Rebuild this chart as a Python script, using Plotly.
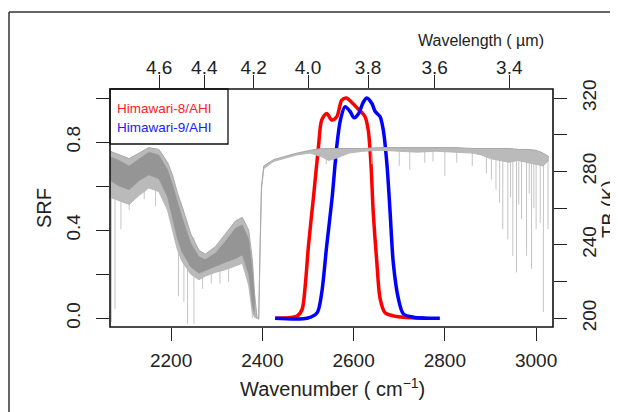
import plotly.graph_objects as go

# SRF of the 3.9 um band (wavenumber in cm-1)
h8_wn = [2428, 2476, 2487, 2494, 2501, 2512, 2523, 2530, 2541, 2552, 2563, 2574, 2584,
         2596, 2610, 2625, 2632, 2638, 2643, 2651, 2658, 2669, 2694, 2756]
h8_srf = [0.0, 0.01, 0.04, 0.15, 0.33, 0.55, 0.78, 0.90, 0.93, 0.90, 0.915, 0.99, 1.0,
          0.98, 0.95, 0.915, 0.855, 0.70, 0.48, 0.25, 0.09, 0.025, 0.008, 0.0]

h9_wn = [2428, 2498, 2520, 2530, 2541, 2553, 2563, 2571, 2581, 2592, 2601, 2611, 2621,
         2629, 2640, 2647, 2658, 2665, 2673, 2680, 2687, 2698, 2709, 2731, 2789]
h9_srf = [0.0, 0.0, 0.025, 0.115, 0.33, 0.55, 0.78, 0.90, 0.96, 0.94, 0.91, 0.93, 0.98,
          1.0, 0.975, 0.94, 0.915, 0.855, 0.70, 0.48, 0.25, 0.09, 0.02, 0.005, 0.0]

# brightness temperature spectrum, outer envelope (K)
env_wn = [2066, 2086, 2108, 2130, 2151, 2173, 2192, 2203, 2213, 2224, 2243, 2261, 2275,
          2297, 2319, 2341, 2356, 2370, 2378, 2383, 2388, 2392, 2395, 2398, 2403, 2425,
          2447, 2476, 2505, 2530, 2545, 2560, 2575, 2590, 2620, 2660, 2700, 2740, 2780,
          2820, 2860, 2880, 2900, 2920, 2940, 2960, 2980, 3000, 3015, 3028]
tb_top = [291, 289, 287, 290, 293, 292, 285, 278, 269, 261, 246, 237, 235,
          239, 246, 253, 255, 248, 232, 213, 201, 200, 240, 272, 283, 286.5,
          288, 290, 291.5, 292.5, 292.5, 292.5, 292.5, 292.5, 292.5, 293, 293, 293, 293,
          293, 292.5, 292.5, 292.5, 292.5, 292.5, 292, 292, 291.5, 290, 288]
tb_bot = [266, 264, 262, 267, 271, 269, 259, 248, 238, 231, 224, 221, 223,
          225, 226.5, 228.5, 230, 218, 203, 200.5, 200, 199.5, 238, 270, 281.5, 285.5,
          287, 289, 290, 288, 286, 287, 288.5, 290, 291, 291.5, 291, 290.5, 291,
          290.5, 290, 289, 287, 286, 285, 286, 285, 284, 283, 286]

# darker core of the dense band below 2385 cm-1
core_wn = [2066, 2086, 2108, 2130, 2151, 2173, 2192, 2203, 2213, 2224, 2243, 2261, 2275,
           2297, 2319, 2341, 2356, 2370, 2378, 2383]
core_top = [288, 286, 283, 287, 290.5, 289, 281, 273, 264, 255, 241, 233.5, 232,
            235.5, 242, 249, 251, 243, 226, 210]
core_bot = [275, 272, 270, 275, 278, 276, 266, 255, 244, 236, 228, 224.5, 226,
            228.5, 230.5, 232.5, 234.5, 224, 207, 202]

# single absorption lines: position, local top, bottom (K)
spike_wn = [2069, 2077, 2090, 2108, 2141, 2166, 2216, 2228, 2236, 2250, 2269, 2288, 2307,
            2326, 2378, 2540, 2565, 2640, 2700, 2723, 2756, 2774, 2800, 2826, 2860, 2891,
            2902, 2912, 2920, 2927, 2938, 2944, 2949, 2957, 2962, 2968, 2979, 2985, 2990,
            2995, 3000, 3009, 3016, 3026]
spike_top = [291, 289, 288, 285, 290, 292, 260, 257, 252, 244, 236, 234, 236,
             240, 230, 292.5, 292.5, 292.5, 293, 293, 293, 293, 293, 293, 292.5, 292.5,
             292.5, 292.5, 292.5, 292.5, 292.5, 292.5, 292.5, 292.5, 292, 292, 292, 292, 292,
             292, 291.5, 291, 290, 288]
spike_tb = [198, 205, 248.5, 259, 265, 261, 212, 209, 197, 197, 216, 219, 219,
            220, 200, 284, 285, 284, 283, 281, 284.7, 285.5, 277.4, 284.8, 283, 279,
            275.6, 270, 263, 248.5, 243, 266, 234, 225, 262, 254, 234, 268, 227,
            260, 248.5, 252, 203.5, 248.5]

wavelength_ticks = [4.6, 4.4, 4.2, 4.0, 3.8, 3.6, 3.4]

FONT = "Liberation Sans, Arial, sans-serif"


def px_x(x):
    # window pixel -> paper x
    return (x - 110) / 443


def px_y(y):
    # window pixel -> paper y
    return (327 - y) / 238


fig = go.Figure()

fig.add_trace(go.Scatter(x=h8_wn, y=h8_srf, mode="lines", line_shape="spline",
                         line=dict(color="#ff0000", width=3.5, smoothing=0.8),
                         showlegend=False))
fig.add_trace(go.Scatter(x=h9_wn, y=h9_srf, mode="lines", line_shape="spline",
                         line=dict(color="#0000ff", width=3.5, smoothing=0.8),
                         showlegend=False))
# keeps the top (wavelength) axis drawn
fig.add_trace(go.Scatter(x=[2500], y=[0.5], xaxis="x2", mode="markers", opacity=0,
                         hoverinfo="skip", showlegend=False))

sx, sy = [], []
for w, t, b in zip(spike_wn, spike_top, spike_tb):
    sx += [w, w, None]
    sy += [t, b, None]
fig.add_trace(go.Scatter(x=sx, y=sy, mode="lines", yaxis="y2",
                         line=dict(color="#c4c4c4", width=1), showlegend=False))

fig.add_trace(go.Scatter(x=env_wn, y=tb_bot, mode="lines", yaxis="y2",
                         line=dict(color="#b8b8b8", width=1), showlegend=False))
fig.add_trace(go.Scatter(x=env_wn, y=tb_top, mode="lines", yaxis="y2", fill="tonexty",
                         fillcolor="#bababa",
                         line=dict(color="#a8a8a8", width=1), showlegend=False))
fig.add_trace(go.Scatter(x=core_wn, y=core_bot, mode="lines", yaxis="y2",
                         line=dict(color="#959595", width=0.5), showlegend=False))
fig.add_trace(go.Scatter(x=core_wn, y=core_top, mode="lines", yaxis="y2", fill="tonexty",
                         fillcolor="#959595",
                         line=dict(color="#959595", width=0.5), showlegend=False))

x_range = [2066, 3037]
axis_common = dict(ticks="outside", ticklen=13, tickwidth=1.3, tickcolor="#222",
                   showgrid=False, zeroline=False, showline=False, automargin=False,
                   tickfont=dict(family=FONT, size=19, color="#222"))
minor_common = dict(ticks="outside", ticklen=13, tickwidth=1.3, tickcolor="#222",
                    showgrid=False)

fig.update_layout(
    width=610, height=404,
    margin=dict(l=102, r=65, t=81, b=85),
    paper_bgcolor="white", plot_bgcolor="white",
    font=dict(family=FONT, color="#222"),
    xaxis=dict(range=x_range, tickvals=[2200, 2400, 2600, 2800, 3000],
               ticklabelstandoff=3, **axis_common),
    xaxis2=dict(range=x_range, overlaying="x", side="top", anchor="y",
                tickvals=[10000 / w for w in wavelength_ticks],
                ticktext=["%.1f" % w for w in wavelength_ticks],
                ticklabelstandoff=-7, **axis_common),
    yaxis=dict(range=[-0.0395, 1.041], tickvals=[0, 0.4, 0.8],
               ticktext=["0.0", "0.4", "0.8"], tickangle=-90,
               minor=dict(tickvals=[0.2, 0.6, 1.0], **minor_common),
               ticklabelstandoff=8, **axis_common),
    yaxis2=dict(range=[195.26, 324.9], overlaying="y", side="right", anchor="x",
                tickvals=[200, 240, 280, 320], tickangle=-90,
                minor=dict(tickvals=[220, 260, 300], **minor_common),
                ticklabelstandoff=6, **axis_common),
)

# plot box, legend box and outer frame
fig.add_shape(type="rect", xref="paper", yref="paper", x0=0, x1=1, y0=0, y1=1,
              line=dict(color="#111", width=1.6))
fig.add_shape(type="rect", xref="paper", yref="paper", x0=0, x1=px_x(228),
              y0=px_y(144), y1=1, line=dict(color="#111", width=1.3))
fig.add_shape(type="line", xref="paper", yref="paper", x0=px_x(9), x1=px_x(9),
              y0=px_y(412), y1=px_y(12), line=dict(color="#333", width=1.5))
fig.add_shape(type="line", xref="paper", yref="paper", x0=px_x(9), x1=px_x(620),
              y0=px_y(12), y1=px_y(12), line=dict(color="#333", width=1.5))

annots = [
    dict(text="Himawari-8/AHI", x=px_x(115), y=px_y(108), xanchor="left",
         font_color="#ff2020", size=13.5),
    dict(text="Himawari-9/AHI", x=px_x(115), y=px_y(127.5), xanchor="left",
         font_color="#2020ff", size=13.5),
    dict(text="Wavenumber ( cm<sup>\u22121</sup>)", x=px_x(332), y=px_y(387),
         xanchor="center", font_color="#222", size=20),
    dict(text="Wavelength ( \u00b5m)", x=px_x(481), y=px_y(40),
         xanchor="center", font_color="#222", size=16),
    dict(text="SRF", x=px_x(44), y=px_y(208), xanchor="center",
         font_color="#222", size=20, textangle=-90),
    dict(text="TB (K)", x=px_x(609), y=px_y(209), xanchor="center",
         font_color="#222", size=20, textangle=-90),
]
for a in annots:
    fig.add_annotation(text=a["text"], x=a["x"], y=a["y"], xref="paper", yref="paper",
                       xanchor=a["xanchor"], yanchor="middle", showarrow=False,
                       textangle=a.get("textangle", 0),
                       font=dict(family=FONT, size=a["size"], color=a["font_color"]))

fig.write_html("out.html")
